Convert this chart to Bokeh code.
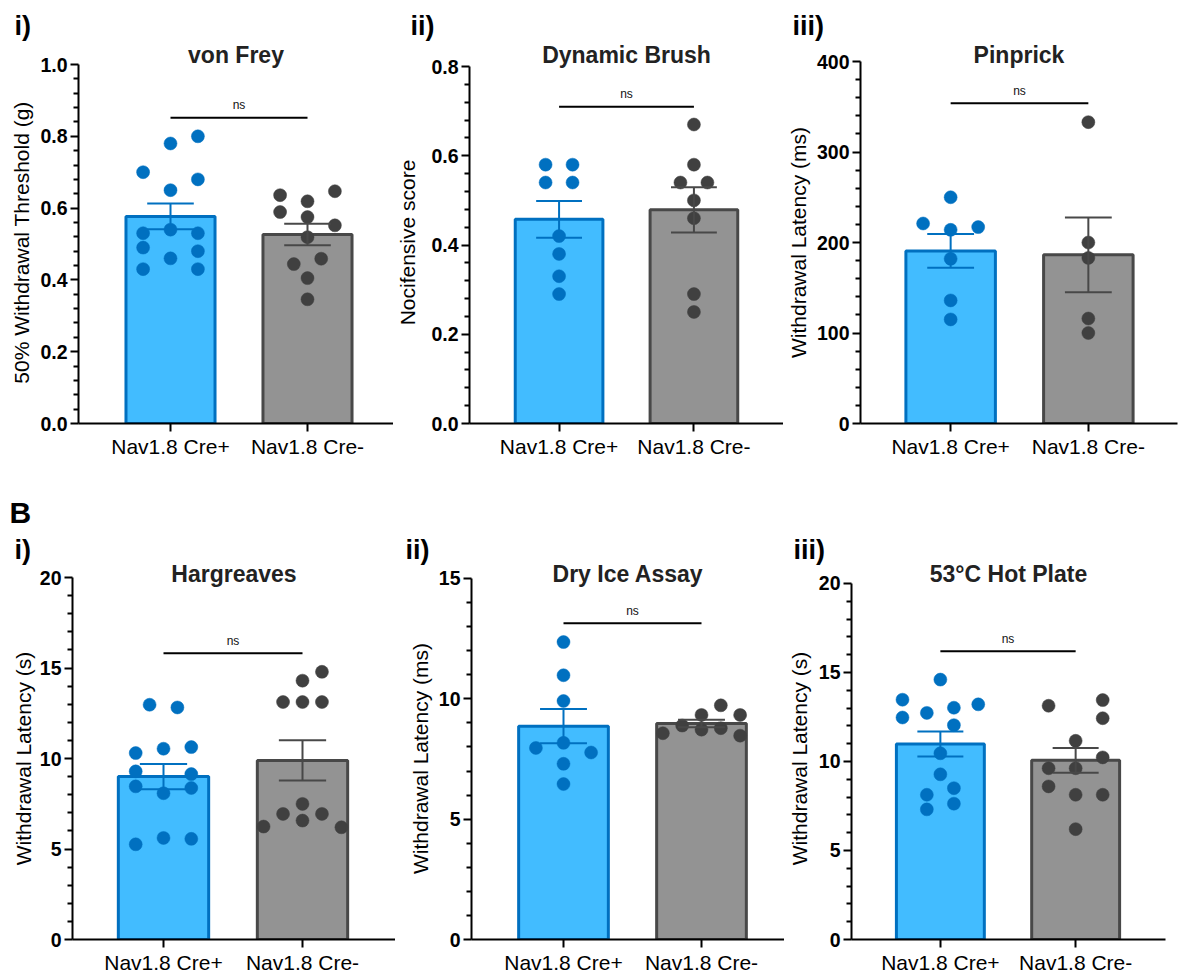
import numpy as np
from bokeh.plotting import figure
from bokeh.models import Range1d, FixedTicker, Title, ColumnDataSource, PrintfTickFormatter
from bokeh.layouts import row, column
from bokeh.embed import file_html
from bokeh.resources import INLINE
from bokeh.core.properties import value

# ---------------- data ----------------
groups = ["Nav1.8 Cre+", "Nav1.8 Cre-"]

# A i) von Frey
vf_pos = [0.80, 0.78, 0.70, 0.68, 0.65, 0.53, 0.54, 0.53, 0.49, 0.48, 0.46, 0.43, 0.43]
vf_neg = [0.647, 0.636, 0.619, 0.589, 0.575, 0.552, 0.519, 0.459, 0.444, 0.405, 0.346]
# A ii) Dynamic Brush
db_pos = [0.58, 0.58, 0.54, 0.54, 0.42, 0.38, 0.33, 0.29]
db_neg = [0.67, 0.58, 0.54, 0.54, 0.50, 0.46, 0.29, 0.25]
# A iii) Pinprick
pp_pos = [250, 221, 217, 214, 182, 136, 115]
pp_neg = [333, 200, 183, 116, 100]
# B i) Hargreaves
hg_pos = [12.97, 12.82, 10.30, 10.54, 10.63, 9.29, 9.14, 8.46, 8.08, 8.37, 5.26, 5.61, 5.56]
hg_neg = [14.79, 14.30, 13.12, 13.12, 13.12, 7.49, 6.94, 6.94, 6.57, 6.24, 6.20]
# B ii) Dry Ice Assay
di_pos = [12.36, 10.98, 9.91, 8.17, 7.96, 7.77, 7.30, 6.46]
di_neg = [9.73, 9.33, 9.33, 8.89, 8.78, 8.72, 8.57, 8.47]
# B iii) 53°C Hot Plate
hp_pos = [14.60, 13.47, 13.21, 13.02, 12.73, 12.47, 12.04, 10.46, 9.28, 8.50, 8.13, 7.63, 7.31]
hp_neg = [13.45, 13.13, 12.43, 11.16, 10.23, 9.62, 9.62, 8.60, 8.13, 8.13, 6.20]

# horizontal scatter (beeswarm) offsets of the dots, in category units
vf_pos_jit = [0.2, 0, -0.2, 0.2, 0, -0.2, 0, 0.2, -0.2, 0.2, 0, -0.2, 0.2]
vf_neg_jit = [0.2, -0.2, 0, -0.2, 0, 0.2, 0, 0.1, -0.1, 0, 0]
db_pos_jit = [-0.1, 0.1, -0.1, 0.1, 0, 0, 0, 0]
db_neg_jit = [0, 0, -0.1, 0.1, 0, 0, 0, 0]
pp_pos_jit = [0, -0.2, 0.2, 0, 0, 0, 0]
pp_neg_jit = [0, 0, 0, 0, 0]
hg_pos_jit = [-0.1, 0.1, -0.2, 0, 0.2, -0.2, 0.2, -0.2, 0, 0.2, -0.2, 0, 0.2]
hg_neg_jit = [0.14, 0, -0.14, 0, 0.14, 0, -0.14, 0.14, 0, -0.28, 0.28]
di_pos_jit = [0, 0, 0, 0, -0.2, 0.2, 0, 0]
di_neg_jit = [0.14, 0, 0.28, -0.14, 0.14, 0, -0.28, 0.28]
hp_pos_jit = [0, -0.28, 0.28, 0.1, -0.1, -0.28, 0.1, 0, 0, 0.1, -0.1, 0.1, -0.1]
hp_neg_jit = [0.2, -0.2, 0.2, 0, 0.2, -0.2, 0, -0.2, 0, 0.2, 0]

titles = ["von Frey", "Dynamic Brush", "Pinprick", "Hargreaves", "Dry Ice Assay", "53°C Hot Plate"]
ylabels = ["50% Withdrawal Threshold (g)", "Nocifensive score", "Withdrawal Latency (ms)",
           "Withdrawal Latency (s)", "Withdrawal Latency (ms)", "Withdrawal Latency (s)"]
panel_tags = ["i)", "ii)", "iii)", "i)", "ii)", "iii)"]
section_tag = "B"
y_max = [1.0, 0.8, 400, 20, 15, 20]
y_major = [0.2, 0.2, 100, 5, 5, 5]
y_minor = [0.04, 0.04, 20, 1, 1, 1]
y_fmt = ["%.1f", "%.1f", "%d", "%d", "%d", "%d"]
sig_y = [0.852, 0.71, 354, 15.82, 13.14, 16.19]
sig_text = "ns"

# ---------------- style / layout ----------------
FONT = "Liberation Sans"
BLUE = "#0070C0"
BLUE_FILL = "#42BCFF"
GRAY_LINE = "#484848"
GRAY_FILL = "#939393"
GRAY_PT = "#404040"

# rows: figure top, figure height, common frame top / bottom (px), title standoffs
rows_cfg = [dict(top=0, h=470, ft=61, fb=423, xstand=3, title_so=-12, tag_so=10, sec_so=None),
            dict(top=470, h=506, ft=577, fb=941, xstand=3, title_so=-18, tag_so=6, sec_so=2)]

# per panel: figure x-extent, frame L/R, axis top px, category centres, label standoff, tag x px
panel_cfg = [
    dict(r=0, fx=(0, 393), LR=(78, 393), yt=64, cen=(170, 307), als=4, tag_x=14),
    dict(r=0, fx=(393, 783), LR=(464, 783), yt=66, cen=(555, 692), als=9, tag_x=405),
    dict(r=0, fx=(783, 1178), LR=(857, 1177), yt=61, cen=(948, 1087), als=4, tag_x=789),
    dict(r=1, fx=(0, 395), LR=(72, 395), yt=577, cen=(163, 302), als=2, tag_x=14),
    dict(r=1, fx=(395, 784), LR=(471, 784), yt=578, cen=(563, 701), als=4, tag_x=405),
    dict(r=1, fx=(784, 1170), LR=(847, 1165), yt=583, cen=(937, 1074), als=5, tag_x=789),
]

datasets = [
    (vf_pos, vf_neg, vf_pos_jit, vf_neg_jit),
    (db_pos, db_neg, db_pos_jit, db_neg_jit),
    (pp_pos, pp_neg, pp_pos_jit, pp_neg_jit),
    (hg_pos, hg_neg, hg_pos_jit, hg_neg_jit),
    (di_pos, di_neg, di_pos_jit, di_neg_jit),
    (hp_pos, hp_neg, hp_pos_jit, hp_neg_jit),
]


def make_title(text, align, offset, size, standoff, color="black"):
    return Title(text=text, align=align, offset=offset, standoff=standoff, vertical_align="bottom",
                 text_font=FONT, text_font_size=size, text_font_style="bold", text_color=color)


def make_panel(i):
    cfg = panel_cfg[i]
    rc = rows_cfg[cfg["r"]]
    fx0, fx1 = cfg["fx"]
    L, R = cfg["LR"]
    T, B = rc["ft"], rc["fb"]
    c0, c1 = cfg["cen"]
    s = float(c1 - c0)
    ytop = y_max[i]
    yt = cfg["yt"]

    def xd(px):
        return (px - c0) / s

    def yd(py):
        return (B - py) / float(B - yt) * ytop

    p = figure(width=fx1 - fx0, height=rc["h"],
               x_range=Range1d(xd(L), xd(R)), y_range=Range1d(0, yd(T)),
               output_backend="svg", toolbar_location=None,
               min_border_left=L - fx0, min_border_right=fx1 - R,
               min_border_top=T - rc["top"], min_border_bottom=rc["top"] + rc["h"] - B)
    p.xgrid.visible = False
    p.ygrid.visible = False
    p.outline_line_color = None
    p.background_fill_color = "white"
    p.border_fill_color = "white"

    pos, neg, jp, jn = datasets[i]
    means = [float(np.mean(pos)), float(np.mean(neg))]
    sems = [float(np.std(pos, ddof=1) / np.sqrt(len(pos))), float(np.std(neg, ddof=1) / np.sqrt(len(neg)))]

    bars = ColumnDataSource(dict(x=[0, 1], top=means, fill=[BLUE_FILL, GRAY_FILL], line=[BLUE, GRAY_LINE]))
    p.vbar(x="x", top="top", width=0.65, bottom=0, source=bars,
           fill_color="fill", line_color="line", line_width=3)

    for k, (vals, jit, col) in enumerate([(pos, jp, BLUE), (neg, jn, GRAY_PT)]):
        src = ColumnDataSource(dict(x=[k + j for j in jit], y=vals))
        p.scatter(x="x", y="y", source=src, size=13, fill_color=col, line_color=col, line_width=0.5)

    ecol = [BLUE, GRAY_LINE]
    lo = [m - e for m, e in zip(means, sems)]
    hi = [m + e for m, e in zip(means, sems)]
    err = ColumnDataSource(dict(x=[0, 1], lo=lo, hi=hi, c=ecol,
                                xl=[-0.17, 1 - 0.17], xr=[0.17, 1.17]))
    p.segment(x0="x", y0="lo", x1="x", y1="hi", source=err, line_color="c", line_width=2)
    p.segment(x0="xl", y0="hi", x1="xr", y1="hi", source=err, line_color="c", line_width=2)
    p.segment(x0="xl", y0="lo", x1="xr", y1="lo", source=err, line_color="c", line_width=2)

    # significance bar
    px_per_unit = float(B - yt) / ytop
    p.segment(x0=[0], y0=[sig_y[i]], x1=[1], y1=[sig_y[i]], line_color="black", line_width=2)
    p.text(x=[0.5], y=[sig_y[i] + 12.2 / px_per_unit], text=[sig_text], text_align="center",
           text_baseline="middle", text_font=value(FONT), text_font_size="12px", text_color="#111111")

    # titles stacked in the top border: first added sits nearest the frame
    p.add_layout(make_title(titles[i], "center", 0, "23px", rc["title_so"], "#222222"), "above")
    p.add_layout(make_title(panel_tags[i], "left", cfg["tag_x"] - L, "27px", rc["tag_so"]), "above")
    if rc["sec_so"] is not None:
        top_text = section_tag if i == 3 else " "
        p.add_layout(make_title(top_text, "left", 9 - L, "30px", rc["sec_so"]), "above")

    # x axis
    xa = p.xaxis[0]
    xa.ticker = FixedTicker(ticks=[0, 1], minor_ticks=[])
    xa.major_label_overrides = {0: groups[0], 1: groups[1]}
    xa.major_label_text_font = FONT
    xa.major_label_text_font_size = "21px"
    xa.major_label_text_color = "black"
    xa.major_label_standoff = rc["xstand"]
    xa.axis_line_width = 2
    xa.axis_line_color = "black"
    xa.major_tick_line_width = 2
    xa.major_tick_line_color = "black"
    xa.major_tick_out = 8
    xa.major_tick_in = 0
    xa.minor_tick_line_color = None

    # y axis
    ya = p.yaxis[0]
    nmaj = int(round(ytop / y_major[i]))
    nmin = int(round(ytop / y_minor[i]))
    majors = [round(k * y_major[i], 6) for k in range(nmaj + 1)]
    minors = [round(k * y_minor[i], 6) for k in range(nmin + 1)]
    minors = [m for m in minors if all(abs(m - M) > 1e-9 for M in majors)]
    ya.ticker = FixedTicker(ticks=majors, minor_ticks=minors)
    ya.bounds = (0, ytop)
    ya.formatter = PrintfTickFormatter(format=y_fmt[i])
    ya.axis_label = ylabels[i]
    ya.axis_label_text_font = FONT
    ya.axis_label_text_font_size = "21px"
    ya.axis_label_text_font_style = "normal"
    ya.axis_label_text_color = "black"
    ya.axis_label_standoff = cfg["als"]
    ya.major_label_text_font = FONT
    ya.major_label_text_font_size = "19.5px"
    ya.major_label_text_font_style = "bold"
    ya.major_label_text_color = "black"
    ya.major_label_standoff = 3
    ya.axis_line_width = 2
    ya.axis_line_color = "black"
    ya.major_tick_line_width = 2
    ya.major_tick_line_color = "black"
    ya.minor_tick_line_width = 2
    ya.minor_tick_line_color = "black"
    ya.major_tick_out = 8
    ya.major_tick_in = 0
    ya.minor_tick_out = 5
    ya.minor_tick_in = 0
    return p


figs = [make_panel(i) for i in range(6)]
layout = column(row(*figs[:3]), row(*figs[3:]))
open("out.html", "w").write(file_html(layout, INLINE))
